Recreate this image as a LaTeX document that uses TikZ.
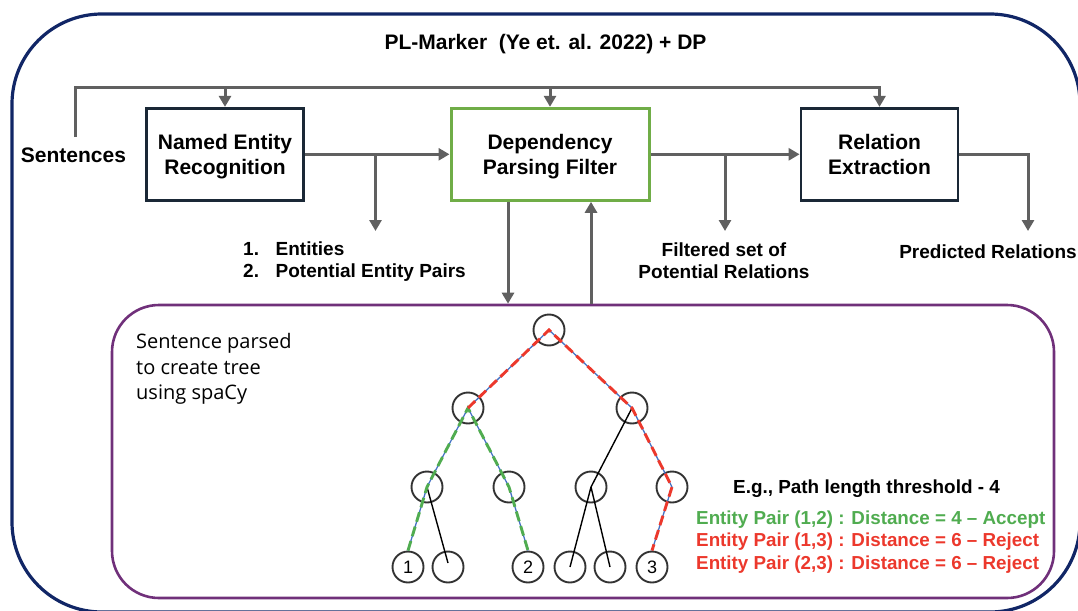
\documentclass[tikz,border=0pt]{standalone}
\usepackage{xcolor}
\usepackage{fontspec}
\setmainfont{Liberation Sans}
\newfontfamily\notefont{Open Sans}
\usepackage{tikz}
\usetikzlibrary{arrows.meta, positioning}

\definecolor{outernavy}{RGB}{17,38,102}
\definecolor{innerpurple}{RGB}{112,48,122}
\definecolor{flowgray}{RGB}{96,96,96}
\definecolor{stagenavy}{RGB}{26,40,54}
\definecolor{filtergreen}{RGB}{112,173,71}
\definecolor{acceptgreen}{RGB}{80,172,80}
\definecolor{rejectred}{RGB}{236,56,44}
\definecolor{edgeblue}{RGB}{68,114,196}

\newcommand{\stagetext}[2]{\rule{0pt}{20.3pt}#1\\#2\vphantom{g}}

\begin{document}
\begin{tikzpicture}[x=1pt, y=-1pt,
    stage/.style={draw=stagenavy, line width=2.8pt, minimum height=92pt,
        inner sep=0pt, align=center, font=\fontsize{21}{24.5}\selectfont\bfseries},
    flow/.style={draw=flowgray, line width=3pt, -{Triangle[length=11pt, width=12pt]}},
    outtext/.style={font=\fontsize{19}{21.7}\selectfont\bfseries, inner sep=0pt},
    pairtext/.style={outtext, font=\fontsize{18.8}{22}\selectfont\bfseries, anchor=base west},
    treenode/.style={circle, draw=black!80, line width=1.9pt, minimum size=31pt,
        inner sep=0pt, font=\fontsize{18}{18}\selectfont},
    treeedge/.style={black, line width=1.4pt},
    acceptpath/.style={draw=acceptgreen, line width=2.9pt, dash pattern=on 10pt off 5pt,
        preaction={draw=edgeblue, line width=1.3pt, solid}},
    rejectpath/.style={acceptpath, draw=rejectred},
]
    \clip (0,0) rectangle (1078,610);
    \draw[outernavy, line width=3.2pt, rounded corners=90pt] (12,14) rectangle (1080,612);

    \node[font=\fontsize{21}{25}\selectfont\bfseries, anchor=base] (title) at (545.5,49.5) {PL-Marker~ (Ye et. al. 2022) + DP};

    \node[stage, minimum width=157pt] (ner) at (225,154.3) {\stagetext{Named Entity}{Recognition}};
    \node[stage, minimum width=198pt, draw=filtergreen, line width=3pt] (dp) at (550,154.3) {\stagetext{Dependency}{Parsing Filter}};
    \node[stage, minimum width=157pt] (re) at (879.5,154.3) {\stagetext{Relation}{Extraction}};

    \node[font=\fontsize{21}{25}\selectfont\bfseries, anchor=base, inner sep=0pt] (sent) at (73.5,162.3) {Sentences};

    \coordinate (bus) at (0,87.5);
    \coordinate (sentup) at (75,137);
    \draw[flow] (sentup) |- (re.north |- bus) -- (re.north);
    \draw[flow] (ner.north |- bus) -- (ner.north);
    \draw[flow] (dp.north |- bus) -- (dp.north);

    \coordinate (entsout) at (375.5,231);
    \coordinate (filtout) at (725,231);
    \coordinate (relout) at (1028,231);
    \draw[flow] (ner) -- (dp);
    \draw[flow] (entsout |- ner.east) -- (entsout);
    \draw[flow] (dp) -- (re);
    \draw[flow] (filtout |- dp.east) -- (filtout);
    \draw[flow] (re.east) -| (relout);

    \node[outtext, align=left, anchor=north west] (ents) at (243,241.9)
        {\makebox[32.5pt][l]{1.}Entities\\\makebox[32.5pt][l]{2.}Potential Entity Pairs};
    \node[outtext, align=center, anchor=north] (filt) at (724,243) {Filtered set of\\Potential Relations};
    \node[outtext, anchor=base] (pred) at (988,258.3) {Predicted Relations};

    \node[draw=innerpurple, line width=2.6pt, rounded corners=47pt,
        minimum width=942pt, minimum height=293pt] (treebox) at (583,451.5) {};

    \coordinate (todown) at (508,0);
    \coordinate (toup) at (591,0);
    \draw[flow] (todown |- dp.south) -- (todown |- treebox.north);
    \draw[flow] (toup |- treebox.north) -- (toup |- dp.south);

    \node[font=\notefont\fontsize{20}{25.5}\selectfont, align=left, anchor=north west, inner sep=0pt] (note)
        at (136,333.5) {Sentence parsed\\to create tree\\using spaCy};

    % dependency tree
    \node[treenode] (r) at (549,330) {};
    \node[treenode] (a) at (468,408) {};
    \node[treenode] (b) at (632,408) {};
    \node[treenode] (a1) at (427,487) {};
    \node[treenode] (a2) at (509,487) {};
    \node[treenode] (b1) at (591,487) {};
    \node[treenode] (b2) at (672,487) {};
    \node[treenode] (l1) at (408,567) {1};
    \node[treenode] (l2) at (448,567) {};
    \node[treenode] (l3) at (528,567) {2};
    \node[treenode] (l4) at (570,567) {};
    \node[treenode] (l5) at (610,567) {};
    \node[treenode] (l6) at (652,567) {3};

    \draw[treeedge] (a1.center) -- ([yshift=4pt]l2.center);
    \draw[treeedge] (b.center) -- (b1.center);
    \draw[treeedge] (b1.center) -- (l4.center);
    \draw[treeedge] (b1.center) -- (l5.center);
    \draw[acceptpath] (l1.north) -- (a1.center) -- (a.center) -- (a2.center) -- (l3.north);
    \draw[rejectpath] (a.center) -- (r.center) -- (b.center) -- (b2.center) -- (l6.north);

    \node[outtext, font=\fontsize{18.9}{22}\selectfont\bfseries, anchor=base] (thr) at (866.5,493)
        {E.g., Path length threshold - 4};
    \node[pairtext, text=acceptgreen] (p12) at (696,524) {Entity Pair (1,2) : Distance = 4 – Accept};
    \node[pairtext, text=rejectred] (p13) at (696,546.5) {Entity Pair (1,3) : Distance = 6 – Reject};
    \node[pairtext, text=rejectred] (p23) at (696,569) {Entity Pair (2,3) : Distance = 6 – Reject};
\end{tikzpicture}
\end{document}
